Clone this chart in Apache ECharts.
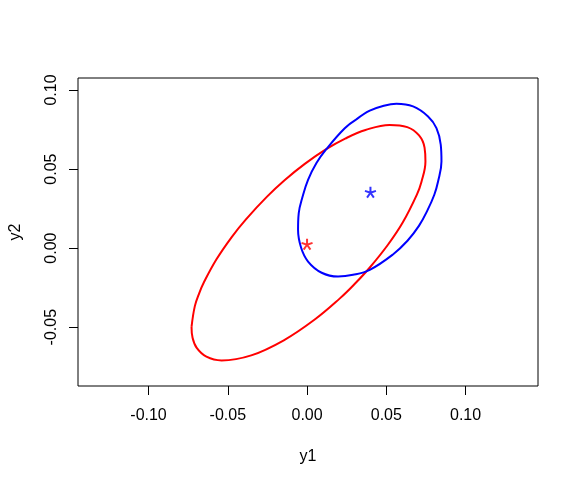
<!DOCTYPE html>
<html>
<head>
<meta charset="utf-8">
<script src="https://cdn.jsdelivr.net/npm/echarts@6/dist/echarts.min.js"></script>
<style>
html,body{margin:0;padding:0;background:#fff;}
#chart{width:579px;height:484px;}
</style>
</head>
<body>
<div id="chart"></div>
<script>
// Tick labels
var xTicks = [-0.10, -0.05, 0.00, 0.05, 0.10];
var yTicks = [-0.05, 0.00, 0.05, 0.10];

// Red ellipse outline (y1, y2)
var redX = [-0.07287,-0.07079,-0.06788,-0.06527,-0.05723,-0.04730,-0.03868,-0.02540,-0.01401,-0.00143,0.01233,0.02404,0.03686,0.05211,0.06323,0.07066,0.07413,0.07469,0.07215,0.06929,0.06044,0.05102,0.03933,0.02927,0.02071,0.00484,-0.01466,-0.03523,-0.05391,-0.06350,-0.06960,-0.07223,-0.07287];
var redY = [-0.04984,-0.03668,-0.02808,-0.02202,-0.00722,0.00731,0.01808,0.03242,0.04306,0.05327,0.06272,0.06928,0.07470,0.07794,0.07656,0.07125,0.06355,0.05480,0.04180,0.03385,0.01634,0.00212,-0.01256,-0.02346,-0.03178,-0.04515,-0.05828,-0.06783,-0.07101,-0.06865,-0.06313,-0.05669,-0.04984];

// Blue ellipse outline
var blueX = [0.03112,0.03956,0.04839,0.05640,0.06688,0.07634,0.08164,0.08435,0.08480,0.08265,0.08028,0.07587,0.07058,0.06336,0.05418,0.03956,0.02902,0.01956,0.00922,0.00063,-0.00374,-0.00568,-0.00524,-0.00280,0.00063,0.00593,0.01202,0.02379,0.03112];
var blueY = [0.08142,0.08690,0.09006,0.09133,0.08962,0.08329,0.07595,0.06538,0.05481,0.04215,0.03375,0.02371,0.01405,0.00466,-0.00401,-0.01373,-0.01690,-0.01797,-0.01558,-0.00848,0.00020,0.01158,0.02215,0.03263,0.04323,0.05380,0.06242,0.07582,0.08142];

// Centre points
var redCentre = [0.0000, 0.0025];
var blueCentre = [0.0400, 0.0354];

function pairs(xs, ys){ var out=[]; for(var i=0;i<xs.length;i++){ out.push([xs[i], ys[i]]); } return out; }

var starPath = 'path://M5,5L5,0M5,5L9.755,3.455M5,5L7.939,9.045M5,5L2.061,9.045M5,5L0.245,3.455';
var FONT = 'Liberation Sans, Arial, sans-serif';

var chart = echarts.init(document.getElementById('chart'), null, {renderer:'canvas'});
chart.setOption({
  animation: false,
  backgroundColor: '#ffffff',
  grid: {left: 78, right: 41, top: 78, bottom: 98, show: true, borderColor: '#000', borderWidth: 1, backgroundColor: 'transparent'},
  xAxis: {
    type: 'value', min: -0.1445, max: 0.1457,
    name: 'y1', nameLocation: 'middle', nameGap: 63,
    nameTextStyle: {fontFamily: FONT, fontSize: 16, color: '#000'},
    axisLine: {show: false, onZero: false},
    axisTick: {show: true, customValues: xTicks, length: 9, lineStyle: {color: '#000', width: 1}},
    axisLabel: {customValues: xTicks, margin: 22, fontFamily: FONT, fontSize: 16, color: '#000',
      formatter: function(v){ return v.toFixed(2); }},
    splitLine: {show: false}
  },
  yAxis: {
    type: 'value', min: -0.0872, max: 0.1076,
    name: 'y2', nameLocation: 'middle', nameGap: 54,
    nameTextStyle: {fontFamily: FONT, fontSize: 16, color: '#000'},
    axisLine: {show: false, onZero: false},
    axisTick: {show: true, customValues: yTicks, length: 9, lineStyle: {color: '#000', width: 1}},
    axisLabel: {customValues: yTicks, rotate: 90, margin: 18, fontFamily: FONT, fontSize: 16, color: '#000',
      formatter: function(v){ return v.toFixed(2); }},
    splitLine: {show: false}
  },
  series: [
    {type: 'line', data: pairs(redX, redY), showSymbol: false, smooth: 0.4,
     lineStyle: {color: '#ff0000', width: 2}, silent: true},
    {type: 'line', data: pairs(blueX, blueY), showSymbol: false, smooth: 0.4,
     lineStyle: {color: '#0000ff', width: 2}, silent: true},
    {type: 'scatter', data: [redCentre], symbol: starPath, symbolSize: 11,
     itemStyle: {color: 'transparent', borderColor: '#ff0000', borderWidth: 2}},
    {type: 'scatter', data: [blueCentre], symbol: starPath, symbolSize: 11,
     itemStyle: {color: 'transparent', borderColor: '#0000ff', borderWidth: 2}}
  ]
});
</script>
</body>
</html>
